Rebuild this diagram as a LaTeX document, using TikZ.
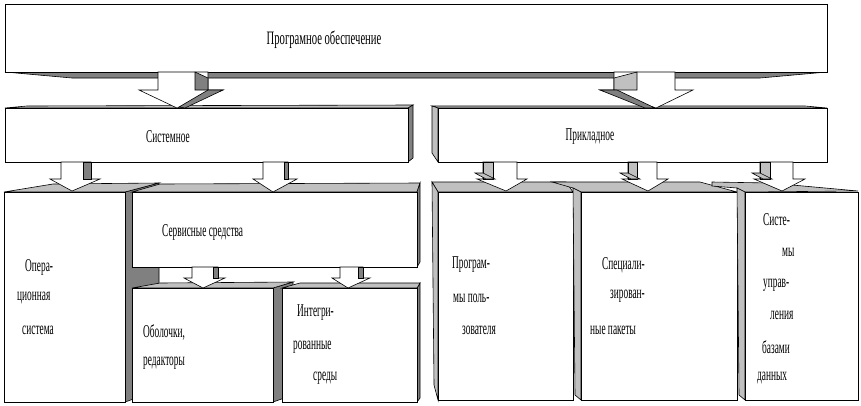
\documentclass[tikz,border=0pt]{standalone}
\usepackage{fontspec}
\setmainfont{Liberation Serif}[FakeStretch=0.52]
\newfontfamily\topfont{Liberation Serif}[FakeStretch=0.56]
\definecolor{dg}{RGB}{128,128,128}
\definecolor{lg}{RGB}{192,192,192}
\tikzset{
  face/.style={draw=black, line width=0.6pt, fill=white, line join=miter},
  dface/.style={face, fill=dg},
  lface/.style={face, fill=lg},
  lbl/.style={anchor=west, inner sep=0pt, font=\fontsize{18}{18}\selectfont},
}
\newcommand{\blockarrow}[8]{%
  \draw[face] (#1,#3) -- (#2,#3) -- (#2,#4) -- (#6,#4) -- (#7,#8) -- (#5,#4) -- (#1,#4) -- cycle;}
\begin{document}
\begin{tikzpicture}[x=1pt,y=-1pt]
\useasboundingbox (0,0) rectangle (861,405);
% ---------- top box
\draw[dface] (5,72) -- (827,72) -- (760,78) -- (72,78) -- cycle;
\draw[face] (5,4) rectangle (827,72);
\node[anchor=center, inner sep=0pt, font=\topfont\fontsize{19}{19}\selectfont] (po) at (324,40) {Програмное обеспечение};
% ---------- second row
\draw[lface] (5,108) -- (27,106) -- (413,105) -- (408,108) -- cycle;
\draw[dface] (408,108) -- (413,105) -- (413,158) -- (408,162) -- cycle;
\draw[face] (5,108) rectangle (408,162);
\node[anchor=center, inner sep=0pt, font=\fontsize{18}{18}\selectfont] (sys) at (168,137) {Системное};
\draw[lface] (432,106) -- (805,106) -- (827,108) -- (438,108) -- cycle;
\draw[lface] (432,106) -- (438,108) -- (438,162) -- (432,153) -- cycle;
\draw[face] (438,108) rectangle (827,162);
\node[anchor=center, inner sep=0pt, font=\fontsize{18}{18}\selectfont] (prik) at (590,137) {Прикладное};
% ---------- bottom row, left group
\draw[dface] (125,192) -- (159,183) -- (159,390) -- (125,402) -- cycle;
\draw[lface] (4,192) -- (53,184) -- (159,183) -- (125,192) -- cycle;
\draw[face] (4,192) rectangle (125,402);
\draw[lface] (132,192) -- (160,184) -- (420,183) -- (417,192) -- cycle;
\draw[dface] (417,192) -- (420,183) -- (420,262) -- (417,267) -- cycle;
\draw[face] (132,192) rectangle (417,267);
\draw[dface] (273,288) -- (293,282) -- (293,395) -- (273,402) -- cycle;
\draw[lface] (132,288) -- (160,283) -- (293,282) -- (273,288) -- cycle;
\draw[face] (132,288) rectangle (273,402);
\draw[dface] (417,288) -- (420,283) -- (420,398) -- (417,402) -- cycle;
\draw[lface] (282,288) -- (300,283) -- (420,283) -- (417,288) -- cycle;
\draw[face] (282,288) rectangle (417,402);
% ---------- bottom row, right group
\draw[lface] (432,182) -- (566,182) -- (573,192) -- (438,192) -- cycle;
\draw[lface] (432,182) -- (438,192) -- (438,400) -- (434,385) -- cycle;
\draw[face] (438,192) rectangle (573,400);
\draw[lface] (552,182) -- (700,182) -- (737,192) -- (581,192) -- (573,188) -- cycle;
\draw[lface] (573,188) -- (581,192) -- (581,400) -- (575,395) -- cycle;
\draw[face] (581,192) rectangle (737,400);
\draw[lface] (712,182) -- (770,183) -- (858,191) -- (745,192) -- (737,188) -- (712,186) -- cycle;
\draw[lface] (737,188) -- (745,192) -- (745,400) -- (739,395) -- cycle;
\draw[face] (745,192) rectangle (858,400);
% ---------- arrows
\blockarrow{158}{208}{72}{90}{139}{223}{177}{108}
\draw[dface] (195,72) -- (208,78) -- (208,90) -- (195,90) -- cycle;
\draw[dface] (179,107) -- (208,90) -- (223,90) -- (185,108) -- cycle;
\blockarrow{614}{675}{72}{90}{600}{693}{656}{108}
\draw[lface] (614,78) -- (637,72) -- (637,90) -- (614,90) -- cycle;
\draw[dface] (600,90) -- (617,90) -- (655,108) -- (645,108) -- cycle;
\blockarrow{61}{91}{162}{179}{50}{100}{72}{191}
\draw[dface] (83,162) -- (91,162) -- (91,179) -- (83,179) -- cycle;
\blockarrow{263}{288}{162}{179}{253}{297}{273}{192}
\draw[dface] (284,162) -- (288,162) -- (288,179) -- (284,179) -- cycle;
\blockarrow{192}{218}{267}{278}{184}{225}{203}{288}
\draw[dface] (213,267) -- (218,267) -- (218,278) -- (213,278) -- cycle;
\blockarrow{340}{363}{267}{278}{332}{370}{348}{288}
\draw[dface] (358,267) -- (363,267) -- (363,278) -- (358,278) -- cycle;
\blockarrow{483}{517}{162}{179}{477}{527}{506}{191}
\draw[lface] (483,162) -- (493,162) -- (493,179) -- (483,179) -- cycle;
\draw[lface] (475,173) -- (483,173) -- (495,179) -- (486,179) -- cycle;
\blockarrow{628}{657}{162}{179}{622}{668}{648}{191}
\draw[lface] (628,162) -- (637,162) -- (637,179) -- (628,179) -- cycle;
\draw[lface] (620,173) -- (628,173) -- (640,179) -- (631,179) -- cycle;
\blockarrow{760}{793}{162}{179}{754}{805}{782}{191}
\draw[lface] (760,162) -- (770,162) -- (770,179) -- (760,179) -- cycle;
\draw[lface] (752,173) -- (760,173) -- (772,179) -- (763,179) -- cycle;
% ---------- labels
\node[lbl] (os1) at (25,267) {Опера-};
\node[lbl] (os2) at (17,298) {ционная};
\node[lbl] (os3) at (22,330) {система};
\node[lbl] (ss) at (162,232) {Сервисные средства};
\node[lbl] (ob1) at (143,332) {Оболочки,};
\node[lbl] (ob2) at (143,363) {редакторы};
\node[lbl] (in1) at (297,313) {Интегри-};
\node[lbl] (in2) at (293,347) {рованные};
\node[lbl] (in3) at (313,378) {среды};
\node[lbl] (pp1) at (452,265) {Програм-};
\node[lbl] (pp2) at (453,298) {мы поль-};
\node[lbl] (pp3) at (462,330) {зователя};
\node[lbl] (sp1) at (602,265) {Специали-};
\node[lbl] (sp2) at (610,296) {зирован-};
\node[lbl] (sp3) at (590,330) {ные пакеты};
\node[lbl] (db1) at (763,220) {Систе-};
\node[lbl] (db2) at (782,252) {мы};
\node[lbl] (db3) at (763,285) {управ-};
\node[lbl] (db4) at (770,315) {ления};
\node[lbl] (db5) at (762,347) {базами};
\node[lbl] (db6) at (757,378) {данных};
\end{tikzpicture}
\end{document}
